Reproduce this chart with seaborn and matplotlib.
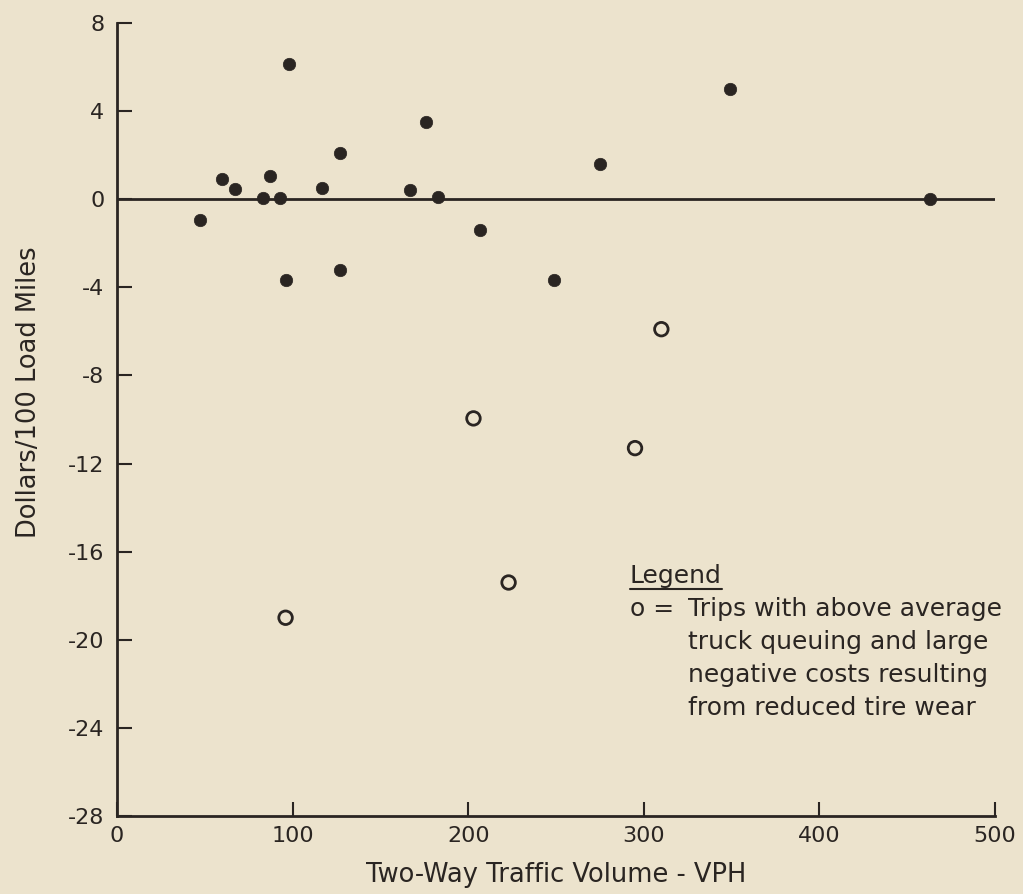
import pandas as pd
import seaborn as sns
import matplotlib.pyplot as plt
from matplotlib.lines import Line2D

# trips plotted as filled dots
vph_normal = [47, 60, 67, 83, 87, 93, 98, 96, 117, 127, 127, 167, 176, 183, 207, 249, 275, 349, 463]
cost_normal = [-0.95, 0.9, 0.45, 0.05, 1.05, 0.05, 6.15, -3.65, 0.5, 2.1, -3.2, 0.4, 3.5, 0.1, -1.4, -3.65, 1.6, 5.0, 0.0]

# trips with above average truck queuing (open circles)
vph_queue = [310, 203, 295, 223, 96]
cost_queue = [-5.9, -9.95, -11.3, -17.4, -19.0]

x_ticks = [0, 100, 200, 300, 400, 500]
y_ticks = [8, 4, 0, -4, -8, -12, -16, -20, -24, -28]

legend_lines = ["Trips with above average",
                "truck queuing and large",
                "negative costs resulting",
                "from reduced tire wear"]

bg = "#ece3cd"
ink = "#2a2522"

sns.set_style("ticks")
plt.rcParams['font.family'] = ['DejaVu Sans']
plt.rcParams['axes.unicode_minus'] = False

df_normal = pd.DataFrame({'vph': vph_normal, 'cost': cost_normal})
df_queue = pd.DataFrame({'vph': vph_queue, 'cost': cost_queue})

fig = plt.figure(figsize=(10.23, 8.94), dpi=100, facecolor=bg)
ax = fig.add_axes([117 / 1023, 1 - 816 / 894, 878 / 1023, 793 / 894])
ax.set_facecolor(bg)

ax.axhline(0, color=ink, lw=2.0, zorder=1)

sns.scatterplot(data=df_normal, x='vph', y='cost', ax=ax, s=80, color=ink,
                edgecolor=ink, linewidth=0.5, zorder=3)
sns.scatterplot(data=df_queue, x='vph', y='cost', ax=ax, s=95, facecolor='none',
                edgecolor=ink, linewidth=2.0, zorder=3)

ax.set_xlim(0, 500)
ax.set_ylim(-28, 8)
ax.set_xticks(x_ticks)
ax.set_yticks(y_ticks)
ax.set_xticklabels([str(v) for v in x_ticks])
ax.set_yticklabels([str(v) for v in y_ticks])

for side in ['top', 'right']:
    ax.spines[side].set_visible(False)
for side in ['left', 'bottom']:
    ax.spines[side].set_linewidth(2.0)
    ax.spines[side].set_color(ink)

ax.tick_params(axis='y', direction='in', length=11, width=1.5, pad=9,
               labelsize=16, colors=ink)
ax.tick_params(axis='x', direction='in', length=10, width=1.5, pad=7,
               labelsize=16, colors=ink)

ax.set_xlabel("Two-Way Traffic Volume - VPH", fontsize=18.5, color=ink, labelpad=12)
ax.set_ylabel("Dollars/100 Load Miles", fontsize=18.5, color=ink)
ax.yaxis.set_label_coords(-0.085, 0.535)

# legend block written as text, like the original figure
title = ax.text(292, -17.1, "Legend", fontsize=18, color=ink, va='center', ha='left')
ax.text(292, -18.6, "o =", fontsize=18, color=ink, va='center', ha='left')
for i, line in enumerate(legend_lines):
    ax.text(325, -18.6 - 1.5 * i, line, fontsize=18, color=ink, va='center', ha='left')

fig.canvas.draw()
bb = title.get_window_extent()
inv = fig.transFigure.inverted()
(x0, y0), (x1, _) = inv.transform([(bb.x0, bb.y0 - 1), (bb.x1, bb.y0)])
fig.add_artist(Line2D([x0, x1], [y0, y0], color=ink, lw=1.5, transform=fig.transFigure))

fig.savefig("out.png", dpi=100, facecolor=bg)
